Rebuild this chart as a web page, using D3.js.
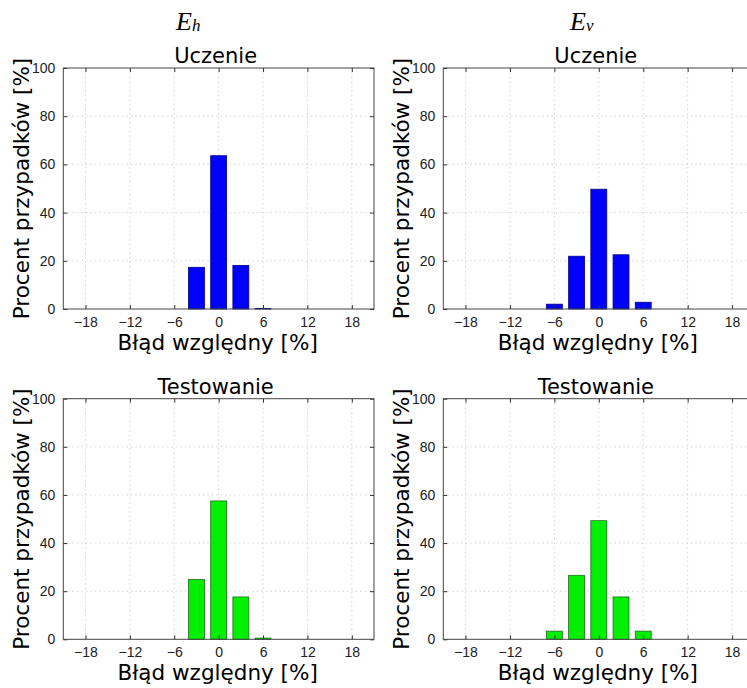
<!DOCTYPE html>
<html><head><meta charset="utf-8">
<script src="https://cdn.jsdelivr.net/npm/d3@7"></script>
<style>
body{margin:0;background:#fff;}
svg{display:block;}
text{font-family:"DejaVu Sans",sans-serif;}
</style></head>
<body>
<script>
// ---- data ----
const bins = [-6, -3, 0, 3, 6];
const xTicks = [-18, -12, -6, 0, 6, 12, 18];
const yTicks = [0, 20, 40, 60, 80, 100];
const ehTrain = [0, 17.3, 63.6, 18.1, 0.2];
const evTrain = [2.0, 21.9, 49.7, 22.5, 2.8];
const ehTest  = [0, 24.9, 57.5, 17.6, 0.5];
const evTest  = [3.4, 26.6, 49.3, 17.6, 3.4];
const columnTitles = ["E", "E"];
const columnSubs = ["h", "v"];
const rowTitles = ["Uczenie", "Testowanie"];
const xLabel = "Błąd względny [%]";
const yLabel = "Procent przypadków [%]";

const W = 747, H = 688;
const svg = d3.select("body").append("svg").attr("width", W).attr("height", H);

const cols = [{x0: 63.3, x1: 374, hx: 176}, {x0: 443.3, x1: 754.3, hx: 570}];
const rows = [{y0: 68, y1: 309}, {y0: 398.7, y1: 639.3}];
const panels = [
  {r: 0, c: 0, vals: ehTrain, fill: "#0000ff", stroke: "#00008a"},
  {r: 0, c: 1, vals: evTrain, fill: "#0000ff", stroke: "#00008a"},
  {r: 1, c: 0, vals: ehTest, fill: "#00f000", stroke: "#1f6b1f"},
  {r: 1, c: 1, vals: evTest, fill: "#00f000", stroke: "#1f6b1f"}
];
const binW = 2.15;

// column headers E_h, E_v
cols.forEach((c, i) => {
  const t = svg.append("text").attr("x", c.hx).attr("y", 30)
    .style("font-family", "'Liberation Serif', 'DejaVu Serif', serif")
    .style("font-style", "italic").style("font-size", "26px").attr("fill", "#000");
  t.append("tspan").text(columnTitles[i]);
  t.append("tspan").attr("dy", 1).style("font-size", "17px").text(columnSubs[i]);
});

panels.forEach(p => {
  const c = cols[p.c], r = rows[p.r];
  const x = d3.scaleLinear().domain([-21, 21]).range([c.x0, c.x1]);
  const y = d3.scaleLinear().domain([0, 100]).range([r.y1, r.y0]);
  const g = svg.append("g");

  // grid
  g.append("g").selectAll("line").data(xTicks).join("line")
    .attr("x1", d => x(d)).attr("x2", d => x(d)).attr("y1", r.y0).attr("y2", r.y1)
    .attr("stroke", "#c8c8c8").attr("stroke-width", 0.8).attr("stroke-dasharray", "1.5,3");
  g.append("g").selectAll("line").data(yTicks.filter(v => v > 0 && v < 100)).join("line")
    .attr("x1", c.x0).attr("x2", c.x1).attr("y1", d => y(d)).attr("y2", d => y(d))
    .attr("stroke", "#c8c8c8").attr("stroke-width", 0.8).attr("stroke-dasharray", "1.5,3");

  // bars
  g.append("g").selectAll("rect").data(bins.map((b, i) => ({b, v: p.vals[i]})).filter(d => d.v > 0)).join("rect")
    .attr("x", d => x(d.b - binW / 2)).attr("width", d => x(d.b + binW / 2) - x(d.b - binW / 2))
    .attr("y", d => y(d.v)).attr("height", d => y(0) - y(d.v))
    .attr("fill", p.fill).attr("stroke", p.stroke).attr("stroke-width", 0.8);

  // axes
  const ax = d3.axisBottom(x).tickValues(xTicks).tickSize(-4).tickPadding(8)
    .tickFormat(d => d < 0 ? "\u2212" + Math.abs(d) : d);
  const axT = d3.axisTop(x).tickValues(xTicks).tickSize(-4).tickFormat("");
  const ay = d3.axisLeft(y).tickValues(yTicks).tickSize(-4).tickPadding(8);
  const ayR = d3.axisRight(y).tickValues(yTicks).tickSize(-4).tickFormat("");
  const styleAxis = sel => {
    sel.select(".domain").remove();
    sel.selectAll(".tick line").attr("stroke", "#333");
    sel.selectAll("text").attr("fill", "#222").style("font-size", "14px")
      .style("font-family", "'Liberation Sans', Arial, sans-serif");
  };
  g.append("g").attr("transform", `translate(0,${r.y1})`).call(ax).call(styleAxis);
  g.append("g").attr("transform", `translate(0,${r.y0})`).call(axT).call(styleAxis);
  g.append("g").attr("transform", `translate(${c.x0},0)`).call(ay).call(styleAxis);
  g.append("g").attr("transform", `translate(${c.x1},0)`).call(ayR).call(styleAxis);

  // box
  g.append("rect").attr("x", c.x0).attr("y", r.y0).attr("width", c.x1 - c.x0).attr("height", r.y1 - r.y0)
    .attr("fill", "none").attr("stroke", "#444").attr("stroke-width", 1);

  // title
  g.append("text").attr("x", (c.x0 + c.x1) / 2 - 3).attr("y", r.y0 - 5)
    .attr("text-anchor", "middle").style("font-size", "21px").attr("fill", "#000")
    .text(rowTitles[p.r]);
  // x label
  g.append("text").attr("x", (c.x0 + c.x1) / 2 - 1).attr("y", r.y1 + 41)
    .attr("text-anchor", "middle").style("font-size", "21.5px").attr("fill", "#000")
    .text(xLabel);
  // y label
  g.append("text").attr("transform", `translate(${c.x0 - 34},${(r.y0 + r.y1) / 2}) rotate(-90)`)
    .attr("text-anchor", "middle").style("font-size", "21.5px").attr("fill", "#000")
    .text(yLabel);
});
</script>
</body></html>
